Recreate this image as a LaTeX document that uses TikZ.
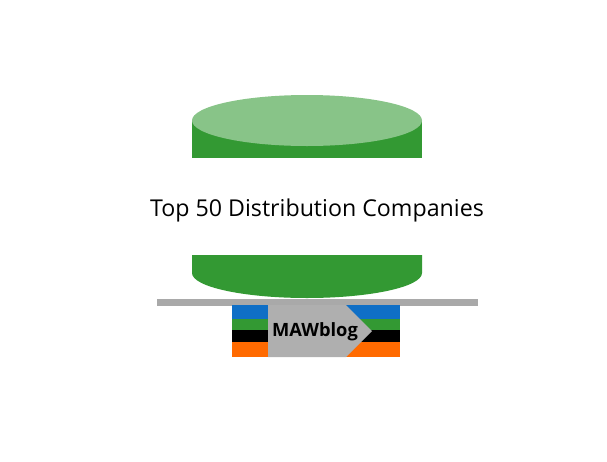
\documentclass[tikz,border=0pt]{standalone}
\usepackage{fontspec}
\setmainfont{Open Sans}
\definecolor{drumgreen}{HTML}{339933}
\definecolor{drumtop}{HTML}{88C488}
\definecolor{bargray}{HTML}{A9A9A9}
\definecolor{logogray}{HTML}{AFAFAF}
\definecolor{logoblue}{HTML}{0F6FC6}
\definecolor{logoorange}{HTML}{FF6A00}
\tikzset{
    band/.style={inner sep=0pt,minimum width=168pt,anchor=north west},
}
\begin{document}
\begin{tikzpicture}[x=1pt,y=-1pt]
    \useasboundingbox (0,0) rectangle (607,461);
    % upper half of the drum
    \fill[drumgreen] (192,120.5) -- (192,158) -- (422,158) -- (422,120.5) -- cycle;
    \fill[drumtop] (307,120.5) ellipse [x radius=115,y radius=25.5];
    % lower half of the drum
    \fill[drumgreen] (192,255) -- (422,255) -- (422,273) arc [start angle=0,end angle=180,x radius=115,y radius=25] -- cycle;
    \fill[bargray] (157,299) rectangle (478,306);
    % logo
    \node[band,fill=logoblue,minimum height=14pt] (blue) at (232,305) {};
    \node[band,fill=drumgreen,minimum height=11pt] (green) at (232,319) {};
    \node[band,fill=black,minimum height=12pt] (dark) at (232,330) {};
    \node[band,fill=logoorange,minimum height=15pt] (orange) at (232,342) {};
    \fill[logogray] (268,305) -- (346,305) -- (372,331) -- (346,357) -- (268,357) -- cycle;
    \node[font=\fontsize{18.3}{18}\selectfont\bfseries,inner sep=0pt] (logo) at (315,332) {MAWblog};
    \node[font=\fontsize{23.2}{26}\selectfont,inner sep=0pt] (title) at (317,210.5) {Top 50 Distribution Companies};
\end{tikzpicture}
\end{document}
